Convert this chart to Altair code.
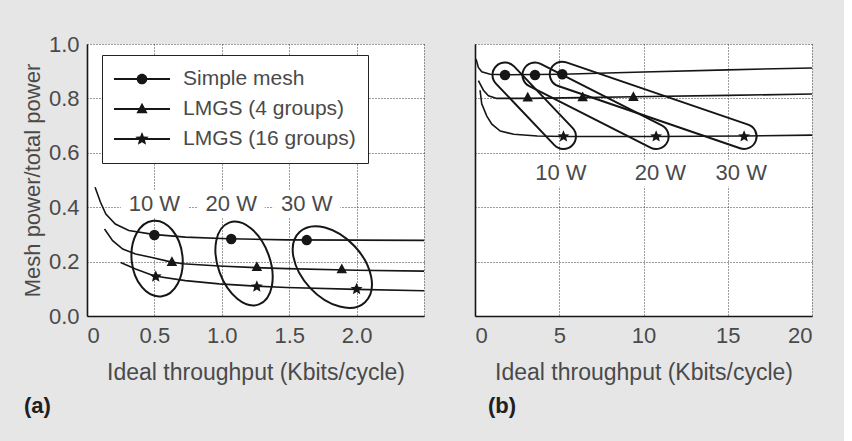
import math
import altair as alt
import pandas as pd

FONT = "Liberation Sans"
TEXT = "#4a4a4a"
INK = "#161616"
BG = "#e6e6e6"

SERIES = ["Simple mesh", "LMGS (4 groups)", "LMGS (16 groups)"]
POWER = ["10 W", "20 W", "30 W"]

# ---------------- panel (a) data ----------------
a_mesh_x = [0.06, 0.10, 0.14, 0.21, 0.31, 0.49, 0.73, 1.05, 1.48, 2.0, 2.5]
a_mesh_y = [0.473, 0.418, 0.375, 0.338, 0.314, 0.300, 0.290, 0.284, 0.280, 0.279, 0.278]
a_g4_x = [0.13, 0.19, 0.265, 0.36, 0.49, 0.62, 0.71, 0.98, 1.25, 1.48, 2.0, 2.5]
a_g4_y = [0.320, 0.277, 0.246, 0.228, 0.214, 0.199, 0.192, 0.184, 0.178, 0.174, 0.168, 0.165]
a_g16_x = [0.25, 0.36, 0.50, 0.73, 0.98, 1.25, 1.48, 2.0, 2.5]
a_g16_y = [0.197, 0.173, 0.147, 0.130, 0.118, 0.110, 0.105, 0.098, 0.093]

a_pt_mesh_x = [0.50, 1.07, 1.63]
a_pt_mesh_y = [0.298, 0.283, 0.279]
a_pt_g4_x = [0.63, 1.26, 1.89]
a_pt_g4_y = [0.199, 0.181, 0.173]
a_pt_g16_x = [0.51, 1.26, 2.00]
a_pt_g16_y = [0.145, 0.108, 0.099]

a_label_x = [0.50, 1.07, 1.63]
a_label_y = [0.41, 0.41, 0.41]

a_ring_x = [0.52, 1.165, 1.82]
a_ring_y = [0.211, 0.193, 0.180]

# ---------------- panel (b) data ----------------
b_mesh_x = [0.06, 0.2, 0.4, 0.9, 1.78, 3.56, 5.18, 10, 15, 20]
b_mesh_y = [0.945, 0.914, 0.898, 0.889, 0.887, 0.888, 0.889, 0.897, 0.905, 0.912]
b_g4_x = [0.2, 0.5, 0.8, 1.29, 3.13, 6.39, 9.4, 15, 20]
b_g4_y = [0.865, 0.83, 0.81, 0.80, 0.80, 0.803, 0.806, 0.811, 0.816]
b_g16_x = [0.3, 0.4, 0.7, 1.0, 1.5, 2.3, 3.7, 5.25, 10.75, 15.97, 20]
b_g16_y = [0.83, 0.78, 0.735, 0.705, 0.68, 0.668, 0.662, 0.660, 0.660, 0.662, 0.665]

b_pt_mesh_x = [1.78, 3.56, 5.18]
b_pt_mesh_y = [0.886, 0.886, 0.889]
b_pt_g4_x = [3.13, 6.39, 9.40]
b_pt_g4_y = [0.804, 0.805, 0.806]
b_pt_g16_x = [5.25, 10.75, 15.97]
b_pt_g16_y = [0.660, 0.660, 0.660]

b_label_x = [5.1, 11.0, 15.8]
b_label_y = [0.525, 0.525, 0.525]

# ---------------- styling ----------------
W, H = 337, 272
A_XMAX, B_XMAX = 2.5, 20

STAR = ("M0,-1.2L0.317,-0.437L1.141,-0.371L0.513,0.167L0.705,0.971L0,0.54"
        "L-0.705,0.971L-0.513,0.167L-1.141,-0.371L-0.317,-0.437Z")
TRI = "M0,-1.05L1,0.8L-1,0.8Z"
MARK_SHAPES = ["circle", TRI, STAR]

BAR = "M-1,-0.036L1,-0.036L1,0.036L-1,0.036Z"
LEG_CIRCLE = BAR + "M0.19,0A0.19,0.19,0,1,1,-0.19,0A0.19,0.19,0,1,1,0.19,0Z"
LEG_TRI = BAR + "M0,-0.22L0.2,0.15L-0.2,0.15Z"
LEG_STAR = BAR + ("M0,-0.25L0.066,-0.091L0.238,-0.077L0.107,0.035L0.147,0.202L0,0.113"
                  "L-0.147,0.202L-0.107,0.035L-0.238,-0.077L-0.066,-0.091Z")
LEG_SHAPES = [LEG_CIRCLE, LEG_TRI, LEG_STAR]

BOX = "M-1,-0.4L1,-0.4L1,0.4L-1,0.4Z"


def long_df(xs_list, ys_list, names):
    rows = []
    for name, xs, ys in zip(names, xs_list, ys_list):
        for x, y in zip(xs, ys):
            rows.append({"series": name, "x": x, "y": y})
    return pd.DataFrame(rows)


def ellipse_rows(xs, ys, semi_major, semi_minor, angles):
    rows = []
    for x, y, A, B, ang in zip(xs, ys, semi_major, semi_minor, angles):
        r = B / A
        path = f"M0,-1A{r:.3f},1 0 1,1 0,1A{r:.3f},1 0 1,1 0,-1Z"
        rows.append({"x": x, "y": y, "path": path, "size": (2 * A) ** 2, "angle": ang})
    return pd.DataFrame(rows)


def capsule_rows(x1s, y1s, x2s, y2s, radius, xmax):
    rows = []
    for x1, y1, x2, y2 in zip(x1s, y1s, x2s, y2s):
        dxp = (x2 - x1) * W / xmax
        dyp = -(y2 - y1) * H
        L = math.hypot(dxp, dyp)
        ang = math.degrees(math.atan2(dyp, dxp)) % 360
        u = L / 2 + radius
        a = (L / 2) / u
        b = radius / u
        path = (f"M{-a:.4f},{-b:.4f}L{a:.4f},{-b:.4f}A{b:.4f},{b:.4f} 0 0,1 {a:.4f},{b:.4f}"
                f"L{-a:.4f},{b:.4f}A{b:.4f},{b:.4f} 0 0,1 {-a:.4f},{-b:.4f}Z")
        rows.append({"x": (x1 + x2) / 2, "y": (y1 + y2) / 2, "path": path,
                     "size": (2 * u) ** 2, "angle": ang})
    return pd.DataFrame(rows)


def label_df(xs, ys):
    return pd.DataFrame({"label": POWER, "x": xs, "y": ys})


AX = dict(domainColor=INK, domainWidth=1.6, grid=True, gridColor="#3a3a3a",
          gridDash=[1, 2], gridWidth=1, ticks=False, tickSize=0,
          labelFont=FONT, labelFontSize=22, labelColor=TEXT,
          titleFont=FONT, titleColor=TEXT, titleFontWeight="normal")


def panel(curves, pts, labels, rings, xmax, xvals, xlabel_expr, show_y, legend, tag, tag_dx):
    xenc = alt.X("x:Q", scale=alt.Scale(domain=[0, xmax], nice=False, zero=True),
                 axis=alt.Axis(values=xvals, labelExpr=xlabel_expr, labelPadding=9,
                               title="Ideal throughput (Kbits/cycle)", titleFontSize=23,
                               titlePadding=15, **AX))
    if show_y:
        yaxis = alt.Axis(values=[0, 0.2, 0.4, 0.6, 0.8, 1.0], format=".1f", labelPadding=8,
                         title="Mesh power/total power", titleFontSize=22, titlePadding=4, **AX)
    else:
        yaxis = alt.Axis(values=[0, 0.2, 0.4, 0.6, 0.8, 1.0], labels=False, title=None, **AX)
    yenc = alt.Y("y:Q", scale=alt.Scale(domain=[0, 1], nice=False), axis=yaxis)

    boxes = alt.Chart(labels).mark_point(shape=BOX, size=67 * 67, filled=True,
                                         fill="white", opacity=1, strokeWidth=0).encode(x=xenc, y=yenc)
    texts = alt.Chart(labels).mark_text(font=FONT, fontSize=22, color=TEXT,
                                        baseline="middle", align="center").encode(
        x="x:Q", y="y:Q", text="label:N")
    lines = alt.Chart(curves).mark_line(color=INK, strokeWidth=1.6).encode(
        x="x:Q", y="y:Q", detail="series:N")
    ring = alt.Chart(rings).mark_point(filled=False, color=INK, strokeWidth=2, opacity=1).encode(
        x="x:Q", y="y:Q",
        shape=alt.Shape("path:N", scale=None, legend=None),
        size=alt.Size("size:Q", scale=None, legend=None),
        angle=alt.Angle("angle:Q", scale=None))
    marks = alt.Chart(pts).mark_point(filled=True, color=INK, opacity=1, size=110).encode(
        x="x:Q", y="y:Q",
        shape=alt.Shape("series:N", scale=alt.Scale(domain=SERIES, range=MARK_SHAPES), legend=None))
    layers = [boxes, texts, lines, ring, marks]
    if legend:
        leg = alt.Chart(pts).transform_filter("false").mark_point(
            filled=True, color=INK, opacity=1).encode(
            x="x:Q", y="y:Q",
            shape=alt.Shape("series:N", scale=alt.Scale(domain=SERIES, range=LEG_SHAPES),
                            legend=alt.Legend(title=None, orient="none", legendX=15, legendY=11,
                                              symbolSize=3136, symbolStrokeWidth=0,
                                              symbolFillColor=INK, clipHeight=24,
                                              labelFont=FONT, labelFontSize=21, labelColor=TEXT,
                                              labelOffset=13, labelLimit=400, padding=12,
                                              rowPadding=6, strokeColor="#222222",
                                              fillColor="white")))
        layers.append(leg)
    ch = alt.layer(*layers).properties(
        width=W, height=H,
        title=alt.TitleParams(tag, orient="bottom", anchor="start", frame="group", dx=tag_dx,
                              offset=12, font=FONT, fontSize=22, fontWeight="bold", color="#202020"))
    if legend:
        ch = ch.resolve_scale(shape="independent")
    return ch


curves_a = long_df([a_mesh_x, a_g4_x, a_g16_x], [a_mesh_y, a_g4_y, a_g16_y], SERIES)
pts_a = long_df([a_pt_mesh_x, a_pt_g4_x, a_pt_g16_x], [a_pt_mesh_y, a_pt_g4_y, a_pt_g16_y], SERIES)
rings_a = ellipse_rows(a_ring_x, a_ring_y, [38, 43.5, 48], [25.5, 26, 30.5], [354, 340, 317])

curves_b = long_df([b_mesh_x, b_g4_x, b_g16_x], [b_mesh_y, b_g4_y, b_g16_y], SERIES)
pts_b = long_df([b_pt_mesh_x, b_pt_g4_x, b_pt_g16_x], [b_pt_mesh_y, b_pt_g4_y, b_pt_g16_y], SERIES)
rings_b = capsule_rows(b_pt_mesh_x, b_pt_mesh_y, b_pt_g16_x, b_pt_g16_y, 12.5, B_XMAX)

pa = panel(curves_a, pts_a, label_df(a_label_x, a_label_y), rings_a, A_XMAX,
           [0, 0.5, 1.0, 1.5, 2.0, 2.5],
           "datum.value == 0 ? '0' : (datum.value == 2.5 ? '' : format(datum.value, '.1f'))",
           True, True, "(a)", -63)
pb = panel(curves_b, pts_b, label_df(b_label_x, b_label_y), rings_b, B_XMAX,
           [0, 5, 10, 15, 20], "format(datum.value, 'd')", False, False, "(b)", 13)

chart = alt.hconcat(pa, pb, spacing=44).properties(
    background=BG, padding={"left": 21, "top": 33, "right": 28, "bottom": 24}
).configure_view(stroke=None, fill="white")

chart.save("out.html", embed_options={"renderer": "svg", "actions": False})
